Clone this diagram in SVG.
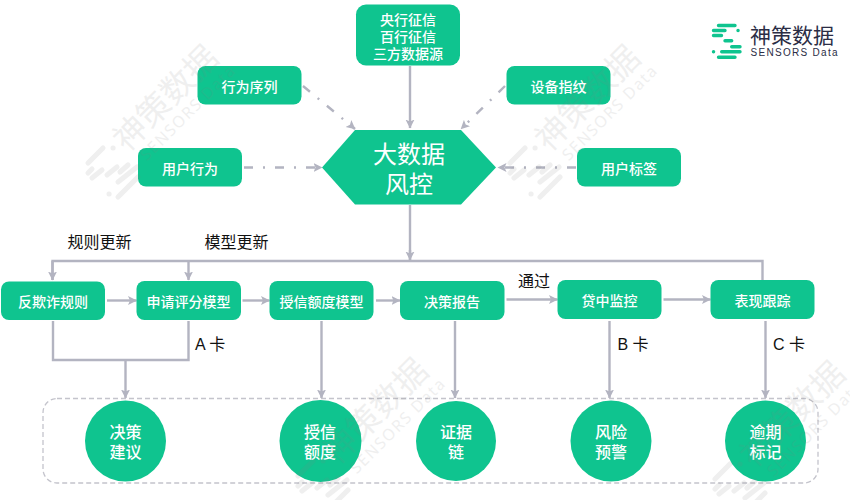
<svg xmlns="http://www.w3.org/2000/svg" width="850" height="500" viewBox="0 0 850 500">
<style>
text{font-family:"Liberation Sans","Noto Sans CJK SC",sans-serif;text-anchor:middle}
.n{fill:#0fc48f}
.t{fill:#fff;font-size:14px;font-weight:500}
.c{fill:#fff;font-size:16px;font-weight:500}
.l{fill:#111;font-size:16px;text-anchor:start}
.s{fill:none;stroke:#b3b4c1;stroke-width:2.4}
.d{fill:none;stroke:#b3b4c1;stroke-width:2.4;stroke-dasharray:9 10 2 10}
.wb{stroke:#808080;stroke-width:5;stroke-linecap:round;fill:none}
.lb{stroke:#0fc48f;stroke-width:3.4;stroke-linecap:round;fill:none}
</style>
<defs>
<marker id="a" markerWidth="10" markerHeight="10" refX="8.500" refY="5" orient="auto" markerUnits="userSpaceOnUse"><path d="M0 .5L9 5L0 9.500L2 5Z" fill="#b3b4c1"/></marker>
<g id="wm" opacity=".12">
<text x="0" y="0" transform="rotate(-45)" style="font-size:33px;fill:#808080;text-anchor:start">神策数据</text>
<text x="8" y="20" transform="rotate(-45)" style="font-size:16px;letter-spacing:1.500px;fill:#808080;text-anchor:start;font-family:'Noto Sans',sans-serif">SENSORS Data</text>
<path class="wb" d="M-39 10L-24-5M-14-5H-13.900M-39 20L-35 16M-35 25L-25 17M-20 22L-10 14M-7 19L1 12M-9 29L10 14M-9 44L11 24M-18 41H-17.900"/>
</g>
</defs>
<rect width="850" height="500" fill="#fff"/>
<g id="connectors">
<path class="s" d="M410 66V128" marker-end="url(#a)"/>
<path class="d" d="M303 86L355 129" marker-end="url(#a)"/>
<path class="d" d="M505 86L461 129" marker-end="url(#a)"/>
<path class="d" d="M244 167.500H322" marker-end="url(#a)"/>
<path class="d" d="M576 167.500H498" marker-end="url(#a)"/>
<path class="s" d="M410 205V261"/>
<path class="s" d="M52.500 280V261H762.500V280"/>
<path class="s" d="M410 250V260" marker-end="url(#a)"/>
<path class="s" d="M52.500 261V280" marker-end="url(#a)"/>
<path class="s" d="M188.500 261V280" marker-end="url(#a)"/>
<path class="s" d="M107 300.500H136.500" marker-end="url(#a)"/>
<path class="s" d="M242.500 300.500H269.500" marker-end="url(#a)"/>
<path class="s" d="M376 300.500H400" marker-end="url(#a)"/>
<path class="s" d="M506.500 299.500H557.500" marker-end="url(#a)"/>
<path class="s" d="M663.500 299.500H710.500" marker-end="url(#a)"/>
<path class="s" d="M53 321V360H188.500V321"/>
<path class="s" d="M125.500 360V398" marker-end="url(#a)"/>
<path class="s" d="M321.500 321V398" marker-end="url(#a)"/>
<path class="s" d="M455 321V398" marker-end="url(#a)"/>
<path class="s" d="M609.500 321V398" marker-end="url(#a)"/>
<path class="s" d="M765.500 321V398" marker-end="url(#a)"/>
</g>
<rect id="group-frame" x="43" y="398.500" width="775" height="84.500" rx="14" fill="none" stroke="#c4c4cc" stroke-width="1.300" stroke-dasharray="5 3"/>
<g id="n-sources"><rect class="n" x="356" y="4.500" width="104" height="61" rx="10"/><text class="t" x="408" y="24.500">央行征信</text><text class="t" x="408" y="41.500">百行征信</text><text class="t" x="408" y="59">三方数据源</text></g>
<g id="n-seq"><rect class="n" x="197.500" y="66" width="104" height="38.500" rx="8"/><text class="t" x="249.500" y="92">行为序列</text></g>
<g id="n-device"><rect class="n" x="506.500" y="66" width="104" height="38.500" rx="8"/><text class="t" x="558.500" y="92">设备指纹</text></g>
<g id="n-behavior"><rect class="n" x="138" y="148" width="104" height="38.500" rx="8"/><text class="t" x="190" y="174">用户行为</text></g>
<g id="n-tag"><rect class="n" x="577" y="148" width="104" height="38.500" rx="8"/><text class="t" x="629" y="174">用户标签</text></g>
<g id="n-core"><path class="n" d="M355 130H461L496 167.500L461 204.500H355L322 167.500Z"/><text x="409" y="163" style="font-size:24px;fill:#fff">大数据</text><text x="409" y="193" style="font-size:24px;fill:#fff">风控</text></g>
<g id="n-r1"><rect class="n" x="1" y="281.500" width="104" height="38.500" rx="8"/><text class="t" x="53" y="307">反欺诈规则</text></g>
<g id="n-r2"><rect class="n" x="136.500" y="281" width="104.500" height="39" rx="8"/><text class="t" x="188.500" y="307">申请评分模型</text></g>
<g id="n-r3"><rect class="n" x="269.500" y="281" width="104" height="39" rx="8"/><text class="t" x="321.500" y="307">授信额度模型</text></g>
<g id="n-r4"><rect class="n" x="400" y="281" width="104.500" height="39" rx="8"/><text class="t" x="452" y="307">决策报告</text></g>
<g id="n-r5"><rect class="n" x="557.500" y="280" width="104" height="39" rx="8"/><text class="t" x="609.500" y="305.500">贷中监控</text></g>
<g id="n-r6"><rect class="n" x="710.500" y="280" width="104" height="39" rx="8"/><text class="t" x="762.500" y="305.500">表现跟踪</text></g>
<g id="n-c1"><circle class="n" cx="125.500" cy="441" r="40.500"/><text class="c" x="125.500" y="438">决策</text><text class="c" x="125.500" y="458">建议</text></g>
<g id="n-c2"><circle class="n" cx="320.500" cy="441" r="41"/><text class="c" x="320" y="438">授信</text><text class="c" x="320" y="458">额度</text></g>
<g id="n-c3"><circle class="n" cx="456" cy="441" r="40"/><text class="c" x="456" y="438">证据</text><text class="c" x="456" y="458">链</text></g>
<g id="n-c4"><circle class="n" cx="611" cy="441" r="40.500"/><text class="c" x="611" y="438">风险</text><text class="c" x="611" y="458">预警</text></g>
<g id="n-c5"><circle class="n" cx="765.500" cy="441" r="40.500"/><text class="c" x="765.500" y="438">逾期</text><text class="c" x="765.500" y="458">标记</text></g>
<g id="labels">
<text class="l" x="67.500" y="248">规则更新</text>
<text class="l" x="204.500" y="248">模型更新</text>
<text class="l" x="518" y="287">通过</text>
<text class="l" x="195" y="350">A 卡</text>
<text class="l" x="617.500" y="350">B 卡</text>
<text class="l" x="773" y="350">C 卡</text>
</g>
<g id="logo">
<path class="lb" d="M718.500 25.500H735M713.500 30.500H725M738 30.500H738.100M713.500 35.500H721.500M725 40.700H731.700M731.700 46.700H740M713.500 51.700H713.600M721.700 51.700H740M718.500 57.300H735"/>
<text x="750" y="43" style="font-size:21px;fill:#2b2d45;text-anchor:start">神策数据</text>
<text x="750.500" y="56" style="font-size:10px;letter-spacing:1.300px;fill:#2b2d45;text-anchor:start;font-family:'Liberation Sans',sans-serif">SENSORS Data</text>
</g>
<g id="watermarks">
<use href="#wm" x="127" y="153"/>
<use href="#wm" x="549" y="153"/>
<use href="#wm" x="337" y="466"/>
<use href="#wm" x="754" y="469"/>
</g>
</svg>
